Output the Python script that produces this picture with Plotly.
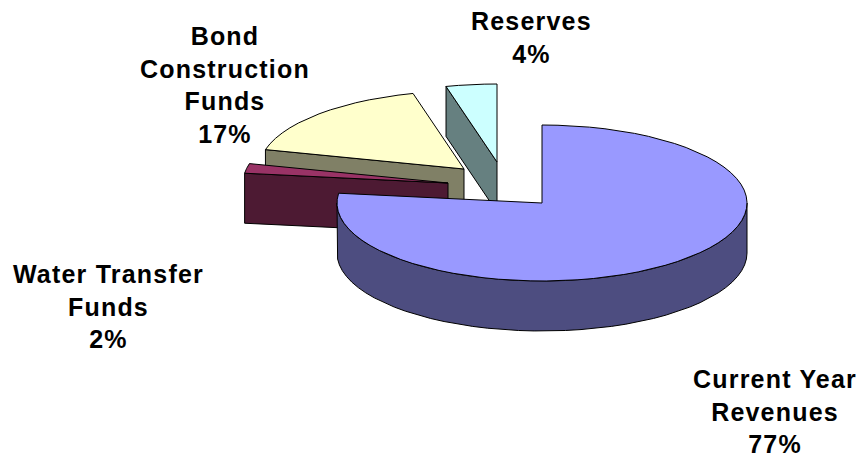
import numpy as np
import plotly.graph_objects as go

# Funding sources, listed clockwise from 12 o'clock
categories = ["Current Year Revenues", "Water Transfer Funds",
              "Bond Construction Funds", "Reserves"]
label_lines = [["Current Year", "Revenues"],
               ["Water Transfer", "Funds"],
               ["Bond", "Construction", "Funds"],
               ["Reserves"]]
shares = [77, 2, 17, 4]

# Styling: top face colours and darker side colours
top_colors = ["#9999FF", "#993366", "#FFFFCC", "#CCFFFF"]
side_colors = ["#4D4D80", "#4D1A33", "#808066", "#668080"]

# Pie geometry in screen units (x right, y down)
W, H = 859, 458
CX, CY = 542, 203
RX, RY = 205, 78
DEPTH = 50
explode = [(0, 0), (-94, -20), (-78, -34), (-45, -41)]
label_pos = [(775, 411), (108, 306), (225, 85), (531, 37)]

FONT = "Liberation Sans, Arial, sans-serif"


def ellipse_pts(cx, cy, a0, a1, n=80, dz=0.0):
    th = np.linspace(a0, a1, max(2, int(n * abs(a1 - a0) / (2 * np.pi)) + 2))
    return cx + RX * np.sin(th), cy - RY * np.cos(th) + dz


def poly(xs, ys, fill):
    xs = list(xs) + [xs[0]]
    ys = list(ys) + [ys[0]]
    return go.Scatter(x=xs, y=ys, mode="lines", fill="toself", fillcolor=fill,
                      line=dict(color="black", width=1), hoverinfo="skip",
                      showlegend=False)


total = float(sum(shares))
bounds = np.concatenate([[0], np.cumsum(shares)]) / total * 2 * np.pi

slices = []
for i in range(len(shares)):
    a0, a1 = bounds[i], bounds[i + 1]
    cx, cy = CX + explode[i][0], CY + explode[i][1]
    parts = []
    # radial faces that turn toward the viewer
    for ang, sign in ((a0, -1), (a1, 1)):
        if sign * np.sin(ang) > 1e-6:
            ex, ey = cx + RX * np.sin(ang), cy - RY * np.cos(ang)
            parts.append(poly([cx, ex, ex, cx], [cy, ey, ey + DEPTH, cy + DEPTH],
                              side_colors[i]))
    # outer wall, front half only
    lo, hi = max(a0, np.pi / 2), min(a1, 3 * np.pi / 2)
    if hi > lo:
        tx, ty = ellipse_pts(cx, cy, lo, hi)
        bx, by = ellipse_pts(cx, cy, hi, lo, dz=DEPTH)
        parts.append(poly(np.concatenate([tx, bx]), np.concatenate([ty, by]),
                          side_colors[i]))
    # top face
    ax, ay = ellipse_pts(cx, cy, a0, a1)
    parts.append(poly(np.concatenate([[cx], ax]), np.concatenate([[cy], ay]),
                      top_colors[i]))
    slices.append((cy, parts))

fig = go.Figure()
# paint from the back of the scene to the front
for _, parts in sorted(slices, key=lambda s: s[0]):
    for p in parts:
        fig.add_trace(p)

spaced = "<span style='letter-spacing:1.2px'>{}</span>"
for i, lines in enumerate(label_lines):
    text = "<br>".join(spaced.format(t) for t in lines + [f"{shares[i]}%"])
    fig.add_annotation(x=label_pos[i][0], y=label_pos[i][1], text=text,
                       showarrow=False, xanchor="center", yanchor="middle",
                       align="center",
                       font=dict(family=FONT, size=25, color="black",
                                 weight="bold"))

fig.update_layout(
    width=W, height=H, margin=dict(l=0, r=0, t=0, b=0),
    paper_bgcolor="white", plot_bgcolor="white",
    xaxis=dict(range=[0, W], visible=False, fixedrange=True),
    yaxis=dict(range=[H, 0], visible=False, fixedrange=True),
    showlegend=False,
)

fig.write_html("out.html")
